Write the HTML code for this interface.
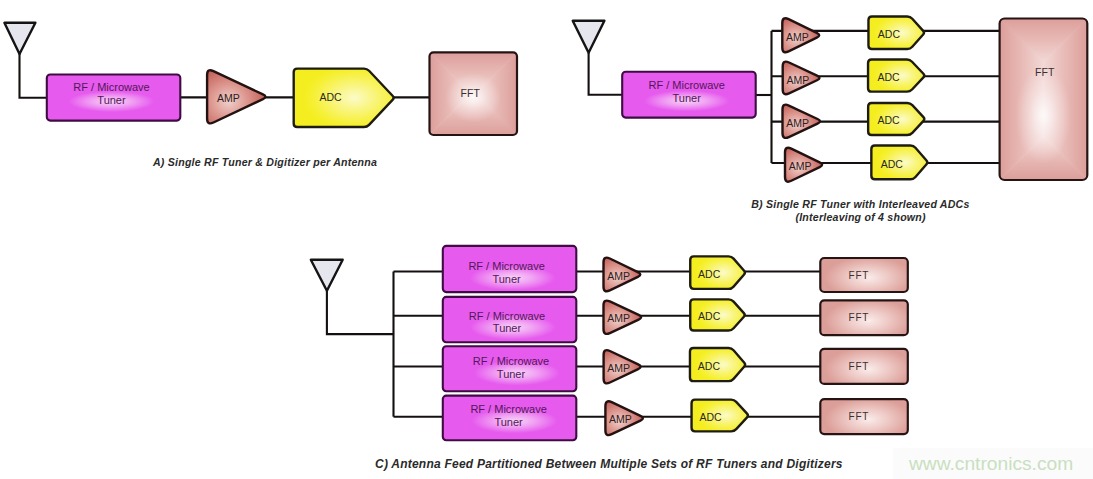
<!DOCTYPE html>
<html><head><meta charset="utf-8">
<style>
html,body{margin:0;padding:0;background:#fff;}
body{width:1093px;height:479px;overflow:hidden;}
svg{display:block;}
.ln{fill:none;stroke:#141010;stroke-width:2.1;}
.ant{fill:#e6e6ee;stroke:#141414;stroke-width:2.4;stroke-linejoin:round;}
.tun{stroke:#3e0c42;stroke-width:2.1;}
.amp{stroke:#241212;stroke-width:2.4;stroke-linejoin:round;}
.adc{stroke:#1e1c10;stroke-width:2.4;stroke-linejoin:round;}
.fft{fill:none;stroke:#261414;stroke-width:2.2;}
text{font-family:"Liberation Sans",sans-serif;}
.tt{font-size:11px;fill:#521856;}
.at{font-size:10.5px;fill:#2e2020;}
.dt{font-size:10.5px;fill:#2a2a1a;}
.ft{font-size:10.5px;fill:#3a3030;}
.capA{font-size:10.6px;letter-spacing:0.22px;font-weight:bold;font-style:italic;fill:#2a2a2a;}
.capC{font-size:12px;font-weight:bold;font-style:italic;fill:#2a2a2a;letter-spacing:0.23px;}
.wm{font-size:19.2px;fill:#c9dfc1;}
</style></head>
<body>
<svg width="1093" height="479" viewBox="0 0 1093 479">
<defs>
<radialGradient id="g1" gradientUnits="userSpaceOnUse" cx="111.5" cy="101.5" r="43" gradientTransform="translate(111.5 101.5) scale(1 0.2442) translate(-111.5 -101.5)"><stop offset="0" stop-color="#f8d4f8"/><stop offset="0.45" stop-color="#f1a4f3"/><stop offset="1" stop-color="#e65aee"/></radialGradient><radialGradient id="g2" gradientUnits="userSpaceOnUse" cx="228.82399999999998" cy="101.2" r="37.075999999999986" gradientTransform="translate(228.82399999999998 101.2) scale(1 0.9197) translate(-228.82399999999998 -101.2)"><stop offset="0" stop-color="#f0d0cc"/><stop offset="0.5" stop-color="#dc968e"/><stop offset="1" stop-color="#c46058"/></radialGradient><radialGradient id="g3" gradientUnits="userSpaceOnUse" cx="354.18" cy="97.8" r="50.400000000000006" gradientTransform="translate(354.18 97.8) scale(1 0.6373) translate(-354.18 -97.8)"><stop offset="0" stop-color="#fcfbc8"/><stop offset="0.4" stop-color="#f9f57e"/><stop offset="0.8" stop-color="#f6f038"/><stop offset="1" stop-color="#f4ee20"/></radialGradient><clipPath id="c4"><rect x="429.5" y="52.3" width="87.5" height="82.7" rx="4"/></clipPath><linearGradient id="l5" gradientUnits="userSpaceOnUse" x1="0" y1="52.3" x2="0" y2="93.65"><stop offset="0" stop-color="#dc9e9a"/><stop offset="0.5" stop-color="#e8bab6"/><stop offset="1" stop-color="#f2d8d6"/></linearGradient><linearGradient id="l6" gradientUnits="userSpaceOnUse" x1="0" y1="135" x2="0" y2="93.65"><stop offset="0" stop-color="#dc9e9a"/><stop offset="0.5" stop-color="#e8bab6"/><stop offset="1" stop-color="#f2d8d6"/></linearGradient><linearGradient id="l7" gradientUnits="userSpaceOnUse" x1="429.5" y1="0" x2="470.85" y2="0"><stop offset="0" stop-color="#dc9e9a"/><stop offset="0.5" stop-color="#e8bab6"/><stop offset="1" stop-color="#f2d8d6"/></linearGradient><linearGradient id="l8" gradientUnits="userSpaceOnUse" x1="517" y1="0" x2="475.65" y2="0"><stop offset="0" stop-color="#dc9e9a"/><stop offset="0.5" stop-color="#e8bab6"/><stop offset="1" stop-color="#f2d8d6"/></linearGradient><radialGradient id="g9" gradientUnits="userSpaceOnUse" cx="473.25" cy="97.785" r="28.0" gradientTransform="translate(473.25 97.785) scale(1 0.8861) translate(-473.25 -97.785)"><stop offset="0" stop-color="rgba(255,255,255,0.85)"/><stop offset="0.5" stop-color="rgba(255,255,255,0.35)"/><stop offset="1" stop-color="rgba(255,255,255,0)"/></radialGradient><radialGradient id="g10" gradientUnits="userSpaceOnUse" cx="795.8919999999999" cy="38.122" r="23.808000000000057" gradientTransform="translate(795.8919999999999 38.122) scale(1 0.9349) translate(-795.8919999999999 -38.122)"><stop offset="0" stop-color="#f0d0cc"/><stop offset="0.5" stop-color="#dc968e"/><stop offset="1" stop-color="#c46058"/></radialGradient><radialGradient id="g11" gradientUnits="userSpaceOnUse" cx="902.29" cy="32.7" r="28.200000000000045" gradientTransform="translate(902.29 32.7) scale(1 0.6339) translate(-902.29 -32.7)"><stop offset="0" stop-color="#fcfbc8"/><stop offset="0.4" stop-color="#f9f57e"/><stop offset="0.8" stop-color="#f6f038"/><stop offset="1" stop-color="#f4ee20"/></radialGradient><radialGradient id="g12" gradientUnits="userSpaceOnUse" cx="796.254" cy="80.652" r="23.74599999999997" gradientTransform="translate(796.254 80.652) scale(1 0.8982) translate(-796.254 -80.652)"><stop offset="0" stop-color="#f0d0cc"/><stop offset="0.5" stop-color="#dc968e"/><stop offset="1" stop-color="#c46058"/></radialGradient><radialGradient id="g13" gradientUnits="userSpaceOnUse" cx="902.31" cy="75.6" r="28.55000000000001" gradientTransform="translate(902.31 75.6) scale(1 0.6184) translate(-902.31 -75.6)"><stop offset="0" stop-color="#fcfbc8"/><stop offset="0.4" stop-color="#f9f57e"/><stop offset="0.8" stop-color="#f6f038"/><stop offset="1" stop-color="#f4ee20"/></radialGradient><radialGradient id="g14" gradientUnits="userSpaceOnUse" cx="796.32" cy="124.10000000000001" r="24.18" gradientTransform="translate(796.32 124.10000000000001) scale(1 0.8974) translate(-796.32 -124.10000000000001)"><stop offset="0" stop-color="#f0d0cc"/><stop offset="0.5" stop-color="#dc968e"/><stop offset="1" stop-color="#c46058"/></radialGradient><radialGradient id="g15" gradientUnits="userSpaceOnUse" cx="902.35" cy="119.0" r="28.5" gradientTransform="translate(902.35 119.0) scale(1 0.6195) translate(-902.35 -119.0)"><stop offset="0" stop-color="#fcfbc8"/><stop offset="0.4" stop-color="#f9f57e"/><stop offset="0.8" stop-color="#f6f038"/><stop offset="1" stop-color="#f4ee20"/></radialGradient><radialGradient id="g16" gradientUnits="userSpaceOnUse" cx="798.668" cy="167.564" r="23.932000000000013" gradientTransform="translate(798.668 167.564) scale(1 0.9275) translate(-798.668 -167.564)"><stop offset="0" stop-color="#f0d0cc"/><stop offset="0.5" stop-color="#dc968e"/><stop offset="1" stop-color="#c46058"/></radialGradient><radialGradient id="g17" gradientUnits="userSpaceOnUse" cx="905.43" cy="162.4" r="28.399999999999977" gradientTransform="translate(905.43 162.4) scale(1 0.6526) translate(-905.43 -162.4)"><stop offset="0" stop-color="#fcfbc8"/><stop offset="0.4" stop-color="#f9f57e"/><stop offset="0.8" stop-color="#f6f038"/><stop offset="1" stop-color="#f4ee20"/></radialGradient><radialGradient id="g18" gradientUnits="userSpaceOnUse" cx="686.7" cy="100.9" r="43" gradientTransform="translate(686.7 100.9) scale(1 0.2442) translate(-686.7 -100.9)"><stop offset="0" stop-color="#f8d4f8"/><stop offset="0.45" stop-color="#f1a4f3"/><stop offset="1" stop-color="#e65aee"/></radialGradient><clipPath id="c19"><rect x="999.6" y="18.5" width="87.69999999999993" height="161.5" rx="5"/></clipPath><linearGradient id="l20" gradientUnits="userSpaceOnUse" x1="0" y1="18.5" x2="0" y2="62.349999999999966"><stop offset="0" stop-color="#dc9e9a"/><stop offset="0.5" stop-color="#e8bab6"/><stop offset="1" stop-color="#f2d8d6"/></linearGradient><linearGradient id="l21" gradientUnits="userSpaceOnUse" x1="0" y1="180" x2="0" y2="136.15000000000003"><stop offset="0" stop-color="#dc9e9a"/><stop offset="0.5" stop-color="#e8bab6"/><stop offset="1" stop-color="#f2d8d6"/></linearGradient><linearGradient id="l22" gradientUnits="userSpaceOnUse" x1="999.6" y1="0" x2="1043.45" y2="0"><stop offset="0" stop-color="#dc9e9a"/><stop offset="0.5" stop-color="#e8bab6"/><stop offset="1" stop-color="#f2d8d6"/></linearGradient><linearGradient id="l23" gradientUnits="userSpaceOnUse" x1="1087.3" y1="0" x2="1043.45" y2="0"><stop offset="0" stop-color="#dc9e9a"/><stop offset="0.5" stop-color="#e8bab6"/><stop offset="1" stop-color="#f2d8d6"/></linearGradient><radialGradient id="g24" gradientUnits="userSpaceOnUse" cx="1043.45" cy="115.39999999999999" r="28.06399999999998" gradientTransform="translate(1043.45 115.39999999999999) scale(1 1.7264) translate(-1043.45 -115.39999999999999)"><stop offset="0" stop-color="rgba(255,255,255,0.85)"/><stop offset="0.5" stop-color="rgba(255,255,255,0.35)"/><stop offset="1" stop-color="rgba(255,255,255,0)"/></radialGradient><radialGradient id="g25" gradientUnits="userSpaceOnUse" cx="512.6" cy="277.9" r="43" gradientTransform="translate(512.6 277.9) scale(1 0.2907) translate(-512.6 -277.9)"><stop offset="0" stop-color="#f8d4f8"/><stop offset="0.45" stop-color="#f1a4f3"/><stop offset="1" stop-color="#e65aee"/></radialGradient><radialGradient id="g26" gradientUnits="userSpaceOnUse" cx="617.054" cy="277.28999999999996" r="23.74599999999997" gradientTransform="translate(617.054 277.28999999999996) scale(1 0.9269) translate(-617.054 -277.28999999999996)"><stop offset="0" stop-color="#f0d0cc"/><stop offset="0.5" stop-color="#dc968e"/><stop offset="1" stop-color="#c46058"/></radialGradient><radialGradient id="g27" gradientUnits="userSpaceOnUse" cx="723.55" cy="272.6" r="27.75" gradientTransform="translate(723.55 272.6) scale(1 0.6441) translate(-723.55 -272.6)"><stop offset="0" stop-color="#fcfbc8"/><stop offset="0.4" stop-color="#f9f57e"/><stop offset="0.8" stop-color="#f6f038"/><stop offset="1" stop-color="#f4ee20"/></radialGradient><clipPath id="c28"><rect x="820.3" y="258" width="87.5" height="34" rx="4"/></clipPath><radialGradient id="g29" gradientUnits="userSpaceOnUse" cx="868.425" cy="277.72" r="43.75" gradientTransform="translate(868.425 277.72) scale(1 0.4818) translate(-868.425 -277.72)"><stop offset="0" stop-color="#faeceb"/><stop offset="0.45" stop-color="#eecac6"/><stop offset="1" stop-color="#dc9e98"/></radialGradient><radialGradient id="g30" gradientUnits="userSpaceOnUse" cx="513" cy="327.3" r="43" gradientTransform="translate(513 327.3) scale(1 0.2907) translate(-513 -327.3)"><stop offset="0" stop-color="#f8d4f8"/><stop offset="0.45" stop-color="#f1a4f3"/><stop offset="1" stop-color="#e65aee"/></radialGradient><radialGradient id="g31" gradientUnits="userSpaceOnUse" cx="617.3580000000001" cy="320.058" r="24.242000000000015" gradientTransform="translate(617.3580000000001 320.058) scale(1 0.8977) translate(-617.3580000000001 -320.058)"><stop offset="0" stop-color="#f0d0cc"/><stop offset="0.5" stop-color="#dc968e"/><stop offset="1" stop-color="#c46058"/></radialGradient><radialGradient id="g32" gradientUnits="userSpaceOnUse" cx="723.43" cy="314.95" r="27.649999999999977" gradientTransform="translate(723.43 314.95) scale(1 0.6206) translate(-723.43 -314.95)"><stop offset="0" stop-color="#fcfbc8"/><stop offset="0.4" stop-color="#f9f57e"/><stop offset="0.8" stop-color="#f6f038"/><stop offset="1" stop-color="#f4ee20"/></radialGradient><clipPath id="c33"><rect x="820.3" y="300.3" width="87.5" height="34.89999999999998" rx="4"/></clipPath><radialGradient id="g34" gradientUnits="userSpaceOnUse" cx="868.425" cy="320.542" r="43.75" gradientTransform="translate(868.425 320.542) scale(1 0.4946) translate(-868.425 -320.542)"><stop offset="0" stop-color="#faeceb"/><stop offset="0.45" stop-color="#eecac6"/><stop offset="1" stop-color="#dc9e98"/></radialGradient><radialGradient id="g35" gradientUnits="userSpaceOnUse" cx="517" cy="373" r="43" gradientTransform="translate(517 373) scale(1 0.2907) translate(-517 -373)"><stop offset="0" stop-color="#f8d4f8"/><stop offset="0.45" stop-color="#f1a4f3"/><stop offset="1" stop-color="#e65aee"/></radialGradient><radialGradient id="g36" gradientUnits="userSpaceOnUse" cx="617.23" cy="369.558" r="23.87" gradientTransform="translate(617.23 369.558) scale(1 0.9117) translate(-617.23 -369.558)"><stop offset="0" stop-color="#f0d0cc"/><stop offset="0.5" stop-color="#dc968e"/><stop offset="1" stop-color="#c46058"/></radialGradient><radialGradient id="g37" gradientUnits="userSpaceOnUse" cx="723.55" cy="364.6" r="27.999999999999943" gradientTransform="translate(723.55 364.6) scale(1 0.6502) translate(-723.55 -364.6)"><stop offset="0" stop-color="#fcfbc8"/><stop offset="0.4" stop-color="#f9f57e"/><stop offset="0.8" stop-color="#f6f038"/><stop offset="1" stop-color="#f4ee20"/></radialGradient><clipPath id="c38"><rect x="820.3" y="348.8" width="87.5" height="35.099999999999966" rx="4"/></clipPath><radialGradient id="g39" gradientUnits="userSpaceOnUse" cx="868.425" cy="369.158" r="43.75" gradientTransform="translate(868.425 369.158) scale(1 0.4974) translate(-868.425 -369.158)"><stop offset="0" stop-color="#faeceb"/><stop offset="0.45" stop-color="#eecac6"/><stop offset="1" stop-color="#dc9e98"/></radialGradient><radialGradient id="g40" gradientUnits="userSpaceOnUse" cx="514.6" cy="420.9" r="43" gradientTransform="translate(514.6 420.9) scale(1 0.2907) translate(-514.6 -420.9)"><stop offset="0" stop-color="#f8d4f8"/><stop offset="0.45" stop-color="#f1a4f3"/><stop offset="1" stop-color="#e65aee"/></radialGradient><radialGradient id="g41" gradientUnits="userSpaceOnUse" cx="619.22" cy="421.048" r="24.18" gradientTransform="translate(619.22 421.048) scale(1 0.9128) translate(-619.22 -421.048)"><stop offset="0" stop-color="#f0d0cc"/><stop offset="0.5" stop-color="#dc968e"/><stop offset="1" stop-color="#c46058"/></radialGradient><radialGradient id="g42" gradientUnits="userSpaceOnUse" cx="725.87" cy="415.5" r="28.599999999999966" gradientTransform="translate(725.87 415.5) scale(1 0.6096) translate(-725.87 -415.5)"><stop offset="0" stop-color="#fcfbc8"/><stop offset="0.4" stop-color="#f9f57e"/><stop offset="0.8" stop-color="#f6f038"/><stop offset="1" stop-color="#f4ee20"/></radialGradient><clipPath id="c43"><rect x="820.3" y="399.2" width="87.5" height="34.900000000000034" rx="4"/></clipPath><radialGradient id="g44" gradientUnits="userSpaceOnUse" cx="868.425" cy="419.442" r="43.75" gradientTransform="translate(868.425 419.442) scale(1 0.4946) translate(-868.425 -419.442)"><stop offset="0" stop-color="#faeceb"/><stop offset="0.45" stop-color="#eecac6"/><stop offset="1" stop-color="#dc9e98"/></radialGradient>
</defs>
<path class="ln" d="M19.5,54 L19.5,97.7 L47,97.7"/>
<path class="ln" d="M180,97.4 L430,97.4"/>
<path class="ant" d="M4.4,22.8 L35.4,22.8 L19.5,54 Z"/>
<rect class="tun" fill="url(#g1)" x="46.8" y="74.5" width="133.5" height="46.099999999999994" rx="3.5"/>
<text class="tt" x="111.5" y="91.1" text-anchor="middle">RF / Microwave</text>
<text class="tt" x="111.5" y="103.8" text-anchor="middle">Tuner</text>
<path class="amp" fill="url(#g2)" d="M207.10,75.10 Q207.10,68.10 213.43,71.09 L262.93,94.45 Q267.90,96.80 262.93,99.15 L213.43,122.51 Q207.10,125.50 207.10,118.50 Z"/>
<text class="at" x="228.40" y="101.90" text-anchor="middle">AMP</text>
<path class="adc" fill="url(#g3)" d="M293.70,72.10 Q293.70,68.60 297.20,68.60 L364.00,68.60 Q367.00,68.60 369.06,70.78 L392.79,95.98 Q394.50,97.80 392.79,99.62 L369.06,124.82 Q367.00,127.00 364.00,127.00 L297.20,127.00 Q293.70,127.00 293.70,123.50 Z"/>
<text class="dt" x="330.50" y="101.10" text-anchor="middle">ADC</text>
<g clip-path="url(#c4)"><path fill="url(#l5)" stroke="url(#l5)" stroke-width="0.8" d="M429.5,52.3 L517,52.3 L475.65,93.65 L470.85,93.65 Z"/><path fill="url(#l6)" stroke="url(#l6)" stroke-width="0.8" d="M429.5,135 L517,135 L475.65,93.65 L470.85,93.65 Z"/><path fill="url(#l7)" stroke="url(#l7)" stroke-width="0.8" d="M429.5,52.3 L470.85,93.65 L470.85,93.65 L429.5,135 Z"/><path fill="url(#l8)" stroke="url(#l8)" stroke-width="0.8" d="M517,52.3 L475.65,93.65 L475.65,93.65 L517,135 Z"/><rect fill="url(#g9)" x="429.5" y="52.3" width="87.5" height="82.7"/></g>
<rect class="fft" x="429.5" y="52.3" width="87.5" height="82.7" rx="4"/>
<text class="ft" x="470.2" y="96.8" text-anchor="middle">FFT</text>
<text class="capA" x="153" y="166" text-anchor="start">A) Single RF Tuner &amp; Digitizer per Antenna</text>
<path class="ln" d="M588.6,52.8 L588.6,94.8 L622,94.8"/>
<path class="ln" d="M755.5,95 L771.5,95"/>
<path class="ln" d="M771.5,30.9 L771.5,163"/>
<path class="ln" d="M771.5,30.9 L1000,30.9"/>
<path class="ln" d="M771.5,76.2 L1000,76.2"/>
<path class="ln" d="M771.5,121.6 L1000,121.6"/>
<path class="ln" d="M771.5,163 L1000,163"/>
<path class="amp" fill="url(#g10)" d="M782.30,23.10 Q782.30,16.10 788.60,19.16 L816.75,32.85 Q821.70,35.25 816.75,37.65 L788.60,51.34 Q782.30,54.40 782.30,47.40 Z"/>
<text class="at" x="797.50" y="40.85" text-anchor="middle">AMP</text>
<path class="adc" fill="url(#g11)" d="M868.45,19.95 Q868.45,16.45 871.95,16.45 L907.30,16.45 Q910.30,16.45 912.30,18.69 L923.18,30.84 Q924.85,32.70 923.18,34.56 L912.30,46.71 Q910.30,48.95 907.30,48.95 L871.95,48.95 Q868.45,48.95 868.45,45.45 Z"/>
<text class="dt" x="888.90" y="38.00" text-anchor="middle">ADC</text>
<path class="amp" fill="url(#g12)" d="M782.70,66.50 Q782.70,59.50 789.04,62.47 L817.02,75.57 Q822.00,77.90 817.02,80.23 L789.04,93.33 Q782.70,96.30 782.70,89.30 Z"/>
<text class="at" x="797.90" y="83.50" text-anchor="middle">AMP</text>
<path class="adc" fill="url(#g13)" d="M868.05,63.05 Q868.05,59.55 871.55,59.55 L907.00,59.55 Q910.00,59.55 912.06,61.73 L923.43,73.78 Q925.15,75.60 923.43,77.42 L912.06,89.47 Q910.00,91.65 907.00,91.65 L871.55,91.65 Q868.05,91.65 868.05,88.15 Z"/>
<text class="dt" x="888.50" y="80.90" text-anchor="middle">ADC</text>
<path class="amp" fill="url(#g14)" d="M782.50,109.60 Q782.50,102.60 788.84,105.56 L817.52,118.97 Q822.50,121.30 817.52,123.63 L788.84,137.04 Q782.50,140.00 782.50,133.00 Z"/>
<text class="at" x="797.70" y="126.90" text-anchor="middle">AMP</text>
<path class="adc" fill="url(#g15)" d="M868.15,106.45 Q868.15,102.95 871.65,102.95 L907.30,102.95 Q910.30,102.95 912.34,105.15 L923.45,117.16 Q925.15,119.00 923.45,120.84 L912.34,132.85 Q910.30,135.05 907.30,135.05 L871.65,135.05 Q868.15,135.05 868.15,131.55 Z"/>
<text class="dt" x="888.60" y="124.30" text-anchor="middle">ADC</text>
<path class="amp" fill="url(#g16)" d="M785.00,152.60 Q785.00,145.60 791.30,148.64 L819.65,162.31 Q824.60,164.70 819.65,167.09 L791.30,180.76 Q785.00,183.80 785.00,176.80 Z"/>
<text class="at" x="800.20" y="170.30" text-anchor="middle">AMP</text>
<path class="adc" fill="url(#g17)" d="M871.35,149.05 Q871.35,145.55 874.85,145.55 L910.50,145.55 Q913.50,145.55 915.47,147.81 L926.51,160.51 Q928.15,162.40 926.51,164.29 L915.47,176.99 Q913.50,179.25 910.50,179.25 L874.85,179.25 Q871.35,179.25 871.35,175.75 Z"/>
<text class="dt" x="891.80" y="167.70" text-anchor="middle">ADC</text>
<path class="ant" d="M572.7,20.8 L604.4,20.8 L588.6,52.8 Z"/>
<rect class="tun" fill="url(#g18)" x="622.2" y="71.8" width="133.5" height="45.8" rx="3.5"/>
<text class="tt" x="686.7" y="89.1" text-anchor="middle">RF / Microwave</text>
<text class="tt" x="686.7" y="101.9" text-anchor="middle">Tuner</text>
<g clip-path="url(#c19)"><path fill="url(#l20)" stroke="url(#l20)" stroke-width="0.8" d="M999.6,18.5 L1087.3,18.5 L1043.45,62.349999999999966 L1043.45,62.349999999999966 Z"/><path fill="url(#l21)" stroke="url(#l21)" stroke-width="0.8" d="M999.6,180 L1087.3,180 L1043.45,136.15000000000003 L1043.45,136.15000000000003 Z"/><path fill="url(#l22)" stroke="url(#l22)" stroke-width="0.8" d="M999.6,18.5 L1043.45,62.349999999999966 L1043.45,136.15000000000003 L999.6,180 Z"/><path fill="url(#l23)" stroke="url(#l23)" stroke-width="0.8" d="M1087.3,18.5 L1043.45,62.349999999999966 L1043.45,136.15000000000003 L1087.3,180 Z"/><rect fill="url(#g24)" x="999.6" y="18.5" width="87.69999999999993" height="161.5"/></g>
<rect class="fft" x="999.6" y="18.5" width="87.69999999999993" height="161.5" rx="5"/>
<text class="ft" x="1044.7" y="75.6" text-anchor="middle">FFT</text>
<text class="capA" x="860.4" y="207.9" text-anchor="middle">B) Single RF Tuner with Interleaved ADCs</text>
<text class="capA" x="860.6" y="221.1" text-anchor="middle">(Interleaving of 4 shown)</text>
<path class="ln" d="M326.9,290.7 L326.9,334.1 L393.5,334.1"/>
<path class="ln" d="M393.5,271.5 L393.5,416.7"/>
<path class="ln" d="M393.5,271.5 L821,271.5"/>
<path class="ln" d="M393.5,315.8 L821,315.8"/>
<path class="ln" d="M393.5,366.5 L821,366.5"/>
<path class="ln" d="M393.5,416.7 L821,416.7"/>
<rect class="tun" fill="url(#g25)" x="442.8" y="245.9" width="133.49999999999994" height="46.20000000000002" rx="3.5"/>
<text class="tt" x="506.6" y="270.1" text-anchor="middle">RF / Microwave</text>
<text class="tt" x="506.6" y="282.9" text-anchor="middle">Tuner</text>
<path class="amp" fill="url(#g26)" d="M603.50,262.50 Q603.50,255.50 609.81,258.54 L637.85,272.06 Q642.80,274.45 637.85,276.84 L609.81,290.36 Q603.50,293.40 603.50,286.40 Z"/>
<text class="at" x="618.60" y="279.65" text-anchor="middle">AMP</text>
<path class="adc" fill="url(#g27)" d="M690.25,259.85 Q690.25,256.35 693.75,256.35 L728.60,256.35 Q731.60,256.35 733.57,258.61 L744.11,270.71 Q745.75,272.60 744.11,274.49 L733.57,286.59 Q731.60,288.85 728.60,288.85 L693.75,288.85 Q690.25,288.85 690.25,285.35 Z"/>
<text class="dt" x="709.20" y="278.00" text-anchor="middle">ADC</text>
<rect class="fft" style="fill:url(#g29)" x="820.3" y="258" width="87.5" height="34" rx="4"/>
<text class="ft" x="858.8" y="278.6" text-anchor="middle" style="font-size:10px;letter-spacing:0.7px;">FFT</text>
<rect class="tun" fill="url(#g30)" x="442.8" y="296.9" width="133.49999999999994" height="45.30000000000001" rx="3.5"/>
<text class="tt" x="507" y="319.6" text-anchor="middle">RF / Microwave</text>
<text class="tt" x="507" y="332.3" text-anchor="middle">Tuner</text>
<path class="amp" fill="url(#g31)" d="M603.50,305.50 Q603.50,298.50 609.84,301.46 L638.62,314.92 Q643.60,317.25 638.62,319.58 L609.84,333.04 Q603.50,336.00 603.50,329.00 Z"/>
<text class="at" x="618.60" y="322.45" text-anchor="middle">AMP</text>
<path class="adc" fill="url(#g32)" d="M690.25,302.85 Q690.25,299.35 693.75,299.35 L728.60,299.35 Q731.60,299.35 733.60,301.59 L743.88,313.09 Q745.55,314.95 743.88,316.81 L733.60,328.31 Q731.60,330.55 728.60,330.55 L693.75,330.55 Q690.25,330.55 690.25,327.05 Z"/>
<text class="dt" x="709.20" y="320.35" text-anchor="middle">ADC</text>
<rect class="fft" style="fill:url(#g34)" x="820.3" y="300.3" width="87.5" height="34.89999999999998" rx="4"/>
<text class="ft" x="858.8" y="321.35" text-anchor="middle" style="font-size:10px;letter-spacing:0.7px;">FFT</text>
<rect class="tun" fill="url(#g35)" x="442.8" y="346.3" width="133.49999999999994" height="45.0" rx="3.5"/>
<text class="tt" x="511" y="364.5" text-anchor="middle">RF / Microwave</text>
<text class="tt" x="511" y="378" text-anchor="middle">Tuner</text>
<path class="amp" fill="url(#g36)" d="M603.60,355.00 Q603.60,348.00 609.92,351.00 L638.13,364.39 Q643.10,366.75 638.13,369.11 L609.92,382.50 Q603.60,385.50 603.60,378.50 Z"/>
<text class="at" x="618.70" y="371.95" text-anchor="middle">AMP</text>
<path class="adc" fill="url(#g37)" d="M689.95,351.55 Q689.95,348.05 693.45,348.05 L728.60,348.05 Q731.60,348.05 733.57,350.32 L744.31,362.71 Q745.95,364.60 744.31,366.49 L733.57,378.88 Q731.60,381.15 728.60,381.15 L693.45,381.15 Q689.95,381.15 689.95,377.65 Z"/>
<text class="dt" x="708.90" y="370.00" text-anchor="middle">ADC</text>
<rect class="fft" style="fill:url(#g39)" x="820.3" y="348.8" width="87.5" height="35.099999999999966" rx="4"/>
<text class="ft" x="858.8" y="369.95000000000005" text-anchor="middle" style="font-size:10px;letter-spacing:0.7px;">FFT</text>
<rect class="tun" fill="url(#g40)" x="442.8" y="395.6" width="133.49999999999994" height="44.599999999999966" rx="3.5"/>
<text class="tt" x="508.6" y="412.6" text-anchor="middle">RF / Microwave</text>
<text class="tt" x="508.6" y="425.9" text-anchor="middle">Tuner</text>
<path class="amp" fill="url(#g41)" d="M605.40,406.20 Q605.40,399.20 611.72,402.20 L640.43,415.84 Q645.40,418.20 640.43,420.56 L611.72,434.20 Q605.40,437.20 605.40,430.20 Z"/>
<text class="at" x="620.50" y="423.40" text-anchor="middle">AMP</text>
<path class="adc" fill="url(#g42)" d="M691.55,403.15 Q691.55,399.65 695.05,399.65 L731.20,399.65 Q734.20,399.65 736.23,401.86 L747.06,413.66 Q748.75,415.50 747.06,417.34 L736.23,429.14 Q734.20,431.35 731.20,431.35 L695.05,431.35 Q691.55,431.35 691.55,427.85 Z"/>
<text class="dt" x="710.50" y="420.90" text-anchor="middle">ADC</text>
<rect class="fft" style="fill:url(#g44)" x="820.3" y="399.2" width="87.5" height="34.900000000000034" rx="4"/>
<text class="ft" x="858.8" y="420.25" text-anchor="middle" style="font-size:10px;letter-spacing:0.7px;">FFT</text>
<path class="ant" d="M310.8,259.7 L342.7,259.7 L326.9,290.7 Z"/>
<text class="capC" x="375" y="467.8" text-anchor="start">C) Antenna Feed Partitioned Between Multiple Sets of RF Tuners and Digitizers</text>
<rect x="893" y="448" width="200" height="31" fill="#fbfbfb"/>
<text class="wm" x="909" y="470.2" text-anchor="start">www.cntronics.com</text>
</svg>
</body></html>
